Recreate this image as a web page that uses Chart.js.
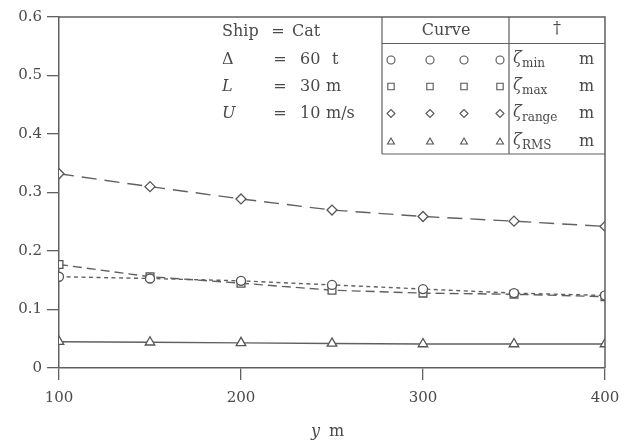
<!DOCTYPE html>
<html>
<head>
<meta charset="utf-8">
<script src="https://cdn.jsdelivr.net/npm/chart.js"></script>
<style>
  html, body { margin: 0; padding: 0; background: #fff; }
  #wrap { width: 634px; height: 447px; }
</style>
</head>
<body>
<div id="wrap"><canvas id="chart" width="634" height="447"></canvas></div>
<script>
// y-offset positions (m) and the four series
const yPositions = [100, 150, 200, 250, 300, 350, 400];
const zetaMin   = [0.156, 0.153, 0.149, 0.142, 0.135, 0.128, 0.124];
const zetaMax   = [0.177, 0.156, 0.145, 0.133, 0.128, 0.126, 0.122];
const zetaRange = [0.332, 0.310, 0.289, 0.270, 0.259, 0.251, 0.242];
const zetaRms   = [0.045, 0.044, 0.043, 0.042, 0.041, 0.041, 0.041];

const xTicks = [100, 200, 300, 400];
const yTicks = [0, 0.1, 0.2, 0.3, 0.4, 0.5, 0.6];

// symbol, value, unit
const shipInfo = [
    ["Δ", "60", "t"],
    ["L", "30", "m"],
    ["U", "10", "m/s"],
];
const legendRows = [
    { style: "circle", sub: "min" },
    { style: "rect", sub: "max" },
    { style: "rectRot", sub: "range" },
    { style: "triangle", sub: "RMS" },
];

const INK = "#4a4a4a";
const LINE = "#606060";
const FONT = "DejaVu Serif";

function pts(values) {
    return yPositions.map((x, i) => ({ x: x, y: values[i] }));
}

function series(values, style, radius, dash) {
    return {
        data: pts(values),
        borderColor: LINE,
        borderWidth: 1.4,
        borderDash: dash,
        pointStyle: style,
        pointRadius: radius,
        pointBorderWidth: 1.3,
        pointBorderColor: "#555",
        pointBackgroundColor: "#fff",
        fill: false,
        tension: 0,
    };
}

// frame on top/right plus the table in the corner
const frameAndTable = {
    id: "frameAndTable",
    afterDraw(chart) {
        const ctx = chart.ctx;
        const a = chart.chartArea;
        ctx.save();
        ctx.strokeStyle = LINE;
        ctx.lineWidth = 1.5;
        ctx.beginPath();
        ctx.moveTo(a.left, a.top);
        ctx.lineTo(a.right, a.top);
        ctx.lineTo(a.right, a.bottom);
        ctx.stroke();

        // table grid
        const tl = 382, div = 509, hb = 43.5, tb = 154;
        ctx.lineWidth = 1.2;
        ctx.beginPath();
        ctx.moveTo(tl, a.top); ctx.lineTo(tl, tb);
        ctx.moveTo(div, a.top); ctx.lineTo(div, tb);
        ctx.moveTo(tl, hb); ctx.lineTo(a.right, hb);
        ctx.moveTo(tl, tb); ctx.lineTo(a.right, tb);
        ctx.stroke();

        ctx.fillStyle = INK;
        ctx.textBaseline = "middle";
        const f = "16px '" + FONT + "'";

        // ship info block
        ctx.font = f;
        ctx.textAlign = "left";
        ctx.fillText("Ship", 222, 32);
        ctx.textAlign = "center";
        ctx.fillText("=", 278, 32);
        ctx.textAlign = "left";
        ctx.fillText("Cat", 292, 32);
        const rowsY = [60, 87, 114];
        shipInfo.forEach((r, i) => {
            ctx.font = (i > 0 ? "italic " : "") + f;
            ctx.textAlign = "left";
            ctx.fillText(r[0], 222, rowsY[i]);
            ctx.font = f;
            ctx.textAlign = "center";
            ctx.fillText("=", 280, rowsY[i]);
            ctx.textAlign = "left";
            ctx.fillText(r[1], 300, rowsY[i]);
            ctx.fillText(r[2], r[2] === "t" ? 332 : 326, rowsY[i]);
        });

        // headers
        ctx.textAlign = "center";
        ctx.fillText("Curve", 446, 31);
        ctx.fillText("†", 557, 29);

        const legY = [60, 86.5, 113.5, 142];
        const markX = [391, 430, 464, 500];
        legendRows.forEach((r, i) => {
            ctx.strokeStyle = "#555";
            ctx.fillStyle = "#fff";
            ctx.lineWidth = 1.1;
            markX.forEach(mx => {
                Chart.helpers.drawPoint(ctx, {
                    pointStyle: r.style,
                    radius: r.style === "rect" ? 4.5 : 4,
                    borderWidth: 1.1,
                    rotation: 0,
                }, mx, legY[i]);
            });
            ctx.fillStyle = INK;
            ctx.textAlign = "left";
            ctx.font = "italic 16px '" + FONT + "'";
            ctx.fillText("ζ", 513, legY[i] - 1);
            ctx.font = "12px '" + FONT + "'";
            ctx.fillText(r.sub, 522, legY[i] + 4);
            ctx.font = f;
            ctx.fillText("m", 579, legY[i]);
        });

        // x axis title
        ctx.textAlign = "left";
        ctx.font = "italic " + f;
        ctx.fillText("y", 311, 432);
        ctx.font = f;
        ctx.fillText("m", 329, 432);
        ctx.restore();
    }
};

new Chart(document.getElementById("chart"), {
    type: "line",
    data: {
        datasets: [
            series(zetaMin, "circle", 4.5, [4, 3.5]),
            series(zetaMax, "rect", 5.5, [9, 5]),
            series(zetaRange, "rectRot", 5, [15, 8]),
            series(zetaRms, "triangle", 5.5, []),
        ],
    },
    options: {
        responsive: false,
        animation: false,
        layout: { padding: { top: 17, right: 29, left: 0, bottom: 0 } },
        plugins: { legend: { display: false }, tooltip: { enabled: false } },
        scales: {
            x: {
                type: "linear",
                min: 100,
                max: 400,
                afterFit: s => { s.height = 79; },
                afterBuildTicks: s => { s.ticks = xTicks.map(v => ({ value: v })); },
                grid: { drawOnChartArea: false, drawTicks: true, tickLength: 12, color: LINE, lineWidth: 1.3 },
                border: { display: true, color: LINE, width: 1.5 },
                ticks: { color: INK, padding: 9, font: { family: FONT, size: 15 } },
            },
            y: {
                min: 0,
                max: 0.6,
                afterFit: s => { s.width = 59; },
                afterBuildTicks: s => { s.ticks = yTicks.map(v => ({ value: v })); },
                grid: { drawOnChartArea: false, drawTicks: true, tickLength: 12, color: LINE, lineWidth: 1.3 },
                border: { display: true, color: LINE, width: 1.5 },
                ticks: {
                    color: INK,
                    padding: 5,
                    font: { family: FONT, size: 15 },
                    callback: v => String(v),
                },
            },
        },
    },
    plugins: [frameAndTable],
});
</script>
</body>
</html>
